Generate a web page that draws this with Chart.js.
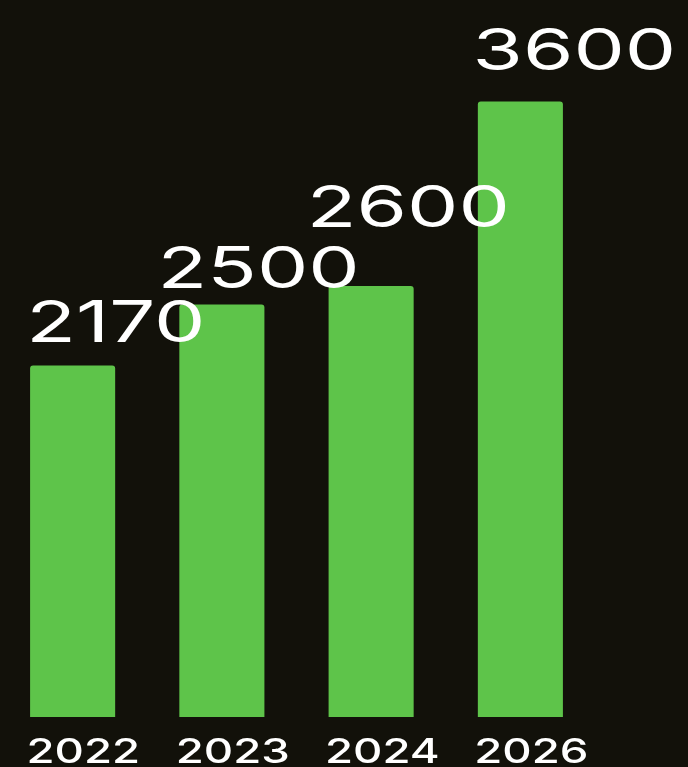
<!DOCTYPE html>
<html>
<head>
<meta charset="utf-8">
<script src="https://cdn.jsdelivr.net/npm/chart.js@4.4.1/dist/chart.umd.min.js"></script>
<style>
    html, body { margin: 0; padding: 0; background: #12110a; overflow: hidden; }
    #contenedor { position: relative; width: 690px; height: 767px; margin-left: -2px; }
</style>
</head>
<body>
<div id="contenedor"><canvas id="myChartVentas"></canvas></div>
<script>
const anios = ['2022', '2023', '2024', '2026']
const valores = [2170, 2500, 2600, 3600]
const etiquetas = ['2170', '2500', '2600', '3600']

/* estilos */
const colorFondo = '#12110a'
const colorBarra = '#5ec44a'
const colorTexto = '#ffffff'
// corrimiento de cada etiqueta respecto a la esquina superior izquierda de su barra
const corrimientos = [[2, -23], [-16, -17], [-16, -59], [-1, -32]]

const dibujarTextoAncho = (ctx, texto, x, y, fuente, escala) => {
    ctx.save()
    ctx.font = fuente
    ctx.fillStyle = colorTexto
    ctx.textAlign = 'left'
    ctx.textBaseline = 'alphabetic'
    const m = ctx.measureText(texto)
    ctx.translate(x, y)
    ctx.scale(escala, 1)
    ctx.fillText(texto, m.actualBoundingBoxLeft, 0)
    ctx.restore()
}

const pluginTextos = {
    id: 'pluginTextos',
    beforeDraw: chart => {
        const {ctx, width, height} = chart
        ctx.save()
        ctx.fillStyle = colorFondo
        ctx.fillRect(0, 0, width, height)
        ctx.restore()
    },
    afterDatasetsDraw: chart => {
        const {ctx, chartArea} = chart
        const meta = chart.getDatasetMeta(0)
        meta.data.forEach((barra, i) => {
            const izq = barra.x - barra.width / 2
            dibujarTextoAncho(ctx, etiquetas[i], izq + corrimientos[i][0], barra.y + corrimientos[i][1], '400 57px Inter', 1.43)
            dibujarTextoAncho(ctx, anios[i], izq - 1, chartArea.bottom + 46, '500 34px Inter', 1.34)
        })
    }
}

const data = {
    labels: anios,
    datasets: [{
        data: valores,
        backgroundColor: colorBarra,
        borderWidth: 0,
        borderRadius: 3,
        barPercentage: 0.57,
        categoryPercentage: 1
    }]
}

const options = {
    responsive: true,
    maintainAspectRatio: false,
    animation: false,
    layout: {
        padding: {top: 0, left: 0, right: 93, bottom: 50}
    },
    scales: {
        x: {display: false},
        y: {display: false, min: 265, max: 4150}
    },
    plugins: {
        legend: {display: false},
        tooltip: {enabled: false}
    }
}

new Chart('myChartVentas', {type: 'bar', data, options, plugins: [pluginTextos]})
</script>
</body>
</html>
